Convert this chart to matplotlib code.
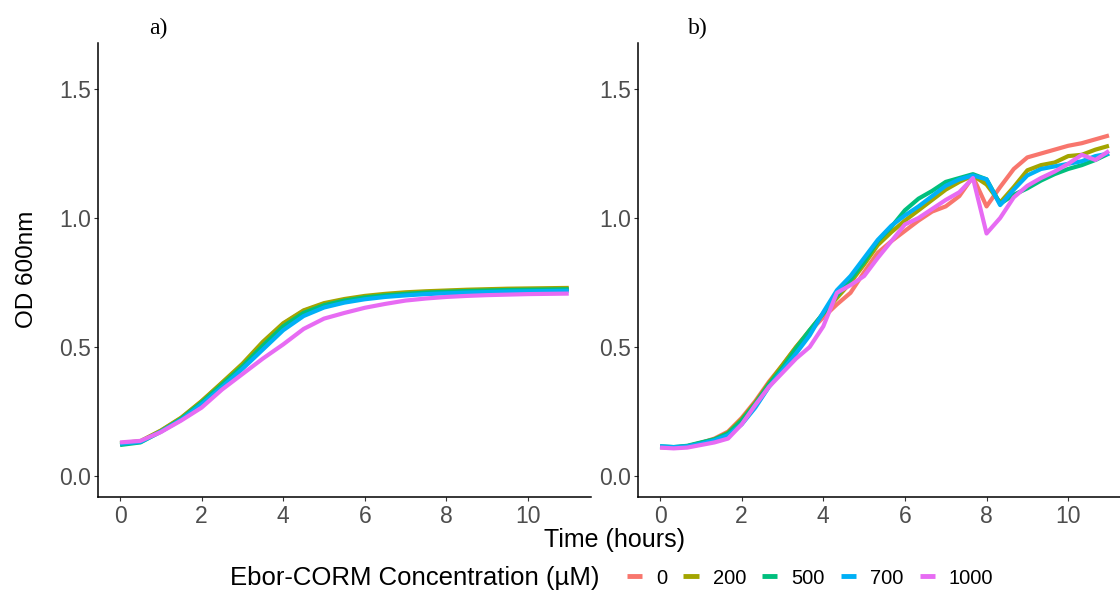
import matplotlib
matplotlib.use("Agg")
import matplotlib.pyplot as plt
import numpy as np

# growth curves, OD600 vs time, panel a and panel b
concentrations = ["0", "200", "500", "700", "1000"]
colors = ["#F8766D", "#A3A500", "#00BF7D", "#00B0F6", "#E76BF3"]

time_a = np.arange(0, 11.01, 0.5)
od_a = {
    "0":    [0.125, 0.133, 0.175, 0.225, 0.290, 0.360, 0.430, 0.515, 0.590, 0.640, 0.667, 0.682,
             0.693, 0.701, 0.707, 0.711, 0.714, 0.716, 0.718, 0.719, 0.720, 0.721, 0.722],
    "200":  [0.127, 0.135, 0.176, 0.226, 0.290, 0.362, 0.435, 0.520, 0.592, 0.642, 0.670, 0.686,
             0.698, 0.706, 0.712, 0.716, 0.719, 0.722, 0.724, 0.726, 0.727, 0.728, 0.729],
    "500":  [0.120, 0.130, 0.172, 0.222, 0.285, 0.355, 0.425, 0.505, 0.580, 0.632, 0.662, 0.680,
             0.692, 0.700, 0.706, 0.711, 0.714, 0.717, 0.719, 0.721, 0.722, 0.723, 0.724],
    "700":  [0.125, 0.132, 0.172, 0.218, 0.278, 0.345, 0.415, 0.490, 0.565, 0.620, 0.653, 0.672,
             0.685, 0.694, 0.700, 0.705, 0.708, 0.711, 0.713, 0.715, 0.716, 0.717, 0.718],
    "1000": [0.130, 0.136, 0.170, 0.215, 0.265, 0.335, 0.395, 0.455, 0.510, 0.570, 0.610, 0.632,
             0.652, 0.667, 0.680, 0.688, 0.694, 0.698, 0.701, 0.703, 0.705, 0.706, 0.707],
}

time_b = np.arange(34) / 3.0
od_b = {
    "0":    [0.112, 0.110, 0.115, 0.128, 0.145, 0.172, 0.225, 0.290, 0.365, 0.430, 0.500, 0.560,
             0.615, 0.665, 0.710, 0.790, 0.865, 0.910, 0.950, 0.990, 1.025, 1.045, 1.085, 1.160,
             1.045, 1.120, 1.190, 1.235, 1.250, 1.265, 1.280, 1.290, 1.305, 1.320],
    "200":  [0.112, 0.110, 0.115, 0.128, 0.142, 0.168, 0.220, 0.285, 0.360, 0.430, 0.500, 0.565,
             0.630, 0.690, 0.750, 0.820, 0.895, 0.945, 0.990, 1.030, 1.070, 1.110, 1.140, 1.165,
             1.130, 1.060, 1.120, 1.185, 1.205, 1.215, 1.240, 1.245, 1.265, 1.280],
    "500":  [0.115, 0.112, 0.117, 0.130, 0.142, 0.165, 0.215, 0.280, 0.355, 0.420, 0.495, 0.565,
             0.630, 0.700, 0.760, 0.830, 0.910, 0.965, 1.030, 1.075, 1.105, 1.140, 1.155, 1.170,
             1.150, 1.055, 1.090, 1.115, 1.145, 1.170, 1.190, 1.205, 1.225, 1.250],
    "700":  [0.115, 0.112, 0.115, 0.125, 0.138, 0.158, 0.200, 0.265, 0.345, 0.410, 0.475, 0.545,
             0.635, 0.720, 0.775, 0.845, 0.915, 0.970, 1.010, 1.045, 1.085, 1.125, 1.150, 1.165,
             1.150, 1.050, 1.110, 1.165, 1.190, 1.200, 1.210, 1.220, 1.240, 1.250],
    "1000": [0.110, 0.107, 0.110, 0.120, 0.130, 0.145, 0.200, 0.275, 0.345, 0.400, 0.455, 0.500,
             0.580, 0.710, 0.740, 0.775, 0.845, 0.910, 0.975, 1.000, 1.035, 1.070, 1.100, 1.155,
             0.940, 1.000, 1.080, 1.125, 1.155, 1.180, 1.210, 1.245, 1.225, 1.260],
}

plt.rcParams["font.family"] = ["Liberation Sans", "DejaVu Sans"]

fig = plt.figure(figsize=(11.2, 5.92), dpi=100)
ax_a = fig.add_axes([97.6 / 1120, 95.4 / 592, 493.6 / 1120, 454 / 592])
ax_b = fig.add_axes([637.6 / 1120, 95.4 / 592, 482.4 / 1120, 454 / 592])


def style_axis(ax, xmax):
    ax.set_xlim(-0.55, xmax)
    ax.set_ylim(-0.08, 1.68)
    ax.set_xticks([0, 2, 4, 6, 8, 10])
    ax.set_yticks([0.0, 0.5, 1.0, 1.5])
    ax.yaxis.set_major_formatter(matplotlib.ticker.FormatStrFormatter("%.1f"))
    for s in ("top", "right"):
        ax.spines[s].set_visible(False)
    for s in ("left", "bottom"):
        ax.spines[s].set_color("black")
        ax.spines[s].set_linewidth(1.1)
    ax.tick_params(axis="both", length=3, width=0.8, color="#333333",
                   labelcolor="#4D4D4D", labelsize=16.5)
    ax.tick_params(axis="x", pad=3)
    ax.tick_params(axis="y", pad=2)


handles = []
for conc, col in zip(concentrations, colors):
    ax_a.plot(time_a, od_a[conc], color=col, lw=3.0, solid_capstyle="butt")
    (h,) = ax_b.plot(time_b, od_b[conc], color=col, lw=3.0, solid_capstyle="butt",
                     label=conc)
    handles.append(h)

style_axis(ax_a, 11.55)
style_axis(ax_b, 11.27)

ax_a.set_ylabel("OD 600nm", fontsize=17.5, color="black", labelpad=15)

fig.text(158 / 1120, 1 - 28 / 592, "a)", fontsize=17, family="Liberation Serif",
         ha="center", va="center")
fig.text(698 / 1120, 1 - 28 / 592, "b)", fontsize=17, family="Liberation Serif",
         ha="center", va="center")

fig.text(614 / 1120, 1 - 540 / 592, "Time (hours)", fontsize=18, ha="center",
         va="center", color="black")

fig.text(230 / 1120, 1 - 578 / 592, "Ebor-CORM Concentration (\u00b5M)", fontsize=18.5,
         ha="left", va="center", color="black")
leg = fig.legend(handles=handles, labels=concentrations, loc="center left",
                 bbox_to_anchor=(627 / 1120, 1 - 578 / 592), ncol=5, frameon=False,
                 fontsize=14.5, handlelength=0.75, handletextpad=0.7, columnspacing=0.8,
                 borderaxespad=0, borderpad=0)
for line in leg.get_lines():
    line.set_linewidth(3.5)

fig.savefig("out.png", dpi=100)
